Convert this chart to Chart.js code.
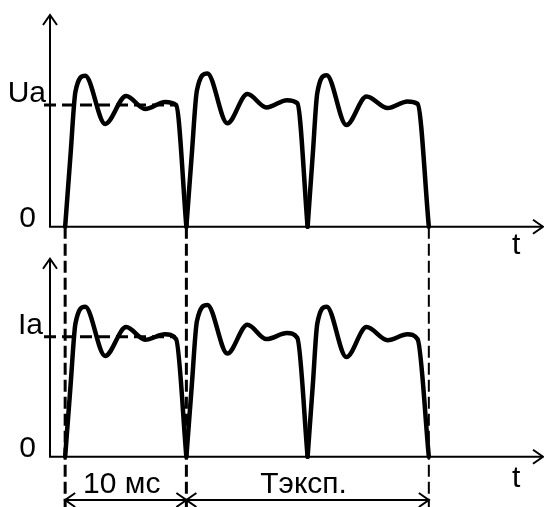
<!DOCTYPE html>
<html>
<head>
<meta charset="utf-8">
<script src="https://cdn.jsdelivr.net/npm/chart.js@4/dist/chart.umd.min.js"></script>
<style>
  html, body { margin: 0; padding: 0; background: #fff; }
  canvas { display: block; }
</style>
</head>
<body>
<canvas id="myChart" width="544" height="507"></canvas>
<script>
// time of the points, ms (three half-waves of 10 ms each)
let tCycle1 = [0, 0.45, 0.85, 1.65, 3.3, 5.03, 6.6, 8.24, 9.15, 10];
let tCycle2 = [10, 10.45, 10.87, 11.73, 13.38, 15.03, 16.6, 18.3, 19.15, 20];
let tCycle3 = [20, 20.43, 20.8, 21.57, 23.2, 24.86, 26.6, 28.24, 29.07, 30];

// anode voltage, in units of Ua
let uCycle1 = [0, 0.6, 1.11, 1.24, 0.845, 1.074, 0.967, 1.025, 1.0, 0];
let uCycle2 = [0, 0.6, 1.12, 1.26, 0.85, 1.09, 0.98, 1.04, 1.015, 0];
let uCycle3 = [0, 0.6, 1.1, 1.245, 0.835, 1.07, 0.975, 1.03, 1.01, 0];

// anode current, in units of Ia
let iCycle1 = [0, 0.6, 1.11, 1.25, 0.84, 1.08, 0.975, 1.02, 0.98, 0];
let iCycle2 = [0, 0.6, 1.13, 1.265, 0.86, 1.1, 0.98, 1.03, 0.99, 0];
let iCycle3 = [0, 0.6, 1.11, 1.25, 0.83, 1.08, 0.97, 1.02, 0.98, 0];

let uTickLabels = ['0', 'Ua'];
let iTickLabels = ['0', 'Ia'];
let levelTicks = [0, 1];

let markerTimes = [0, 10, 30];
let spanFrom = [0, 10];
let spanTo = [10, 30];
let spanLabels = ['10 мс', 'Тэксп.'];

let FONT = '30px "Liberation Sans", Arial, sans-serif';

function toPoints(ts, vs) {
  return ts.map((t, i) => ({ x: t, y: vs[i] }));
}

function wave(ts, vs, axis) {
  return {
    data: toPoints(ts, vs),
    yAxisID: axis,
    borderColor: '#000',
    borderWidth: 4.5,
    pointRadius: 0,
    cubicInterpolationMode: 'monotone',
    borderJoinStyle: 'round',
    borderCapStyle: 'round',
    fill: false
  };
}

function arrowHead(c, x, y, dx, dy) {
  // open chevron, tip at (x, y), pointing along (dx, dy)
  let px = -dy, py = dx;
  c.beginPath();
  c.moveTo(x - dx * 10 + px * 7, y - dy * 10 + py * 7);
  c.lineTo(x, y);
  c.lineTo(x - dx * 10 - px * 7, y - dy * 10 - py * 7);
  c.stroke();
}

let sketch = {
  id: 'sketch',
  beforeDatasetsDraw(chart) {
    let c = chart.ctx;
    let x = chart.scales.x;
    let yU = chart.scales.yU;
    let yI = chart.scales.yI;
    c.save();
    c.strokeStyle = '#000';
    c.lineCap = 'butt';

    // vertical dashed markers
    markerTimes.forEach((t, k) => {
      let px = x.getPixelForValue(t);
      c.lineWidth = k < 2 ? 3 : 2;
      c.setLineDash([12, 5]);
      c.beginPath();
      c.moveTo(px, yU.getPixelForValue(0));
      c.lineTo(px, chart.height);
      c.stroke();
    });

    // Ua / Ia level lines
    c.lineWidth = 3;
    c.setLineDash([12, 6]);
    let xEnd = x.getPixelForValue(tCycle1[8]);
    [yU, yI].forEach((s) => {
      let py = s.getPixelForValue(levelTicks[1]);
      c.beginPath();
      c.moveTo(x.left - 6, py);
      c.lineTo(xEnd, py);
      c.stroke();
    });
    c.restore();
  },
  afterDatasetsDraw(chart) {
    let c = chart.ctx;
    let x = chart.scales.x;
    let axes = [chart.scales.yU, chart.scales.yI];
    let labels = [uTickLabels, iTickLabels];
    let tops = [1.74, 1.65];
    let labelRight = [[36, 46], [36, 43]];
    c.save();
    c.strokeStyle = '#000';
    c.fillStyle = '#000';
    c.setLineDash([]);
    c.lineWidth = 2;
    c.lineCap = 'butt';
    c.font = FONT;

    axes.forEach((s, k) => {
      let y0 = s.getPixelForValue(0);
      let yTop = s.getPixelForValue(tops[k]);
      let x0 = x.left;
      c.beginPath();
      c.moveTo(x0, yTop);
      c.lineTo(x0, y0);
      c.lineTo(chart.width - 1, y0);
      c.stroke();
      arrowHead(c, x0, yTop, 0, -1);
      arrowHead(c, chart.width - 1, y0, 1, 0);

      // level labels sit on their lines
      c.textAlign = 'right';
      c.textBaseline = 'alphabetic';
      levelTicks.forEach((v, i) => {
        let py = s.getPixelForValue(v);
        c.fillText(labels[k][i], labelRight[k][i], py - (i === 1 ? 3 : 0));
      });

      c.textAlign = 'left';
      c.fillText('t', 512, y0 + (k === 0 ? 27 : 30));
    });

    // dimension arrows
    let yDim = 500;
    spanFrom.forEach((t0, i) => {
      let a = x.getPixelForValue(t0);
      let b = x.getPixelForValue(spanTo[i]);
      c.lineWidth = 2;
      c.beginPath();
      c.moveTo(a, yDim);
      c.lineTo(b, yDim);
      c.stroke();
      arrowHead(c, a, yDim, -1, 0);
      arrowHead(c, b, yDim, 1, 0);
      c.textAlign = 'center';
      c.fillText(spanLabels[i], (a + b) / 2 - 4, 493);
    });
    c.restore();
  }
};

let ctx = document.getElementById('myChart').getContext('2d');

let myChart = new Chart(ctx, {
  type: 'line',
  data: {
    datasets: [
      wave(tCycle1, uCycle1, 'yU'),
      wave(tCycle2, uCycle2, 'yU'),
      wave(tCycle3, uCycle3, 'yU'),
      wave(tCycle1, iCycle1, 'yI'),
      wave(tCycle2, iCycle2, 'yI'),
      wave(tCycle3, iCycle3, 'yI')
    ]
  },
  options: {
    responsive: false,
    animation: false,
    layout: {
      padding: { left: 50, right: 0, top: 0, bottom: 0 }
    },
    scales: {
      x: { type: 'linear', min: -1.25, max: 39.5, display: false },
      yU: { type: 'linear', position: 'left', min: -2.303, max: 1.863, display: false },
      yI: { type: 'linear', position: 'left', min: -0.419, max: 3.806, display: false }
    },
    plugins: {
      legend: { display: false },
      tooltip: { enabled: false }
    }
  },
  plugins: [sketch]
});
</script>
</body>
</html>
